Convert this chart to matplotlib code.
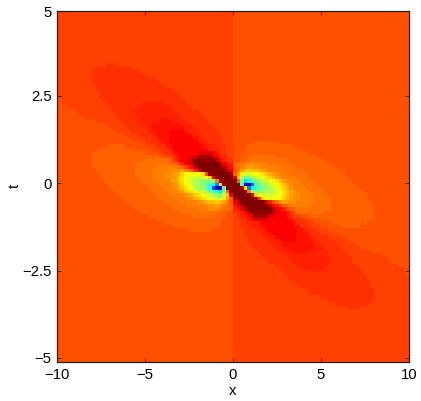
import numpy as np
import matplotlib
matplotlib.use('Agg')
import matplotlib.pyplot as plt
from matplotlib.colors import ListedColormap

plt.rcParams['font.family'] = ['Liberation Sans', 'DejaVu Sans']

# colour index (jet 1..64) of the left half, one row per t cell from the top
# each row is value, end column, value, end column ... (50 columns to x=0)
top_rows = [[52, 50]] * 15
mid_rows = [
    [52, 14, 53, 17, 52, 50],
    [52, 11, 53, 21, 52, 50],
    [52, 10, 53, 23, 52, 50],
    [52, 10, 53, 25, 52, 50],
    [52, 10, 53, 28, 52, 50],
    [52, 10, 53, 29, 52, 50],
    [52, 11, 53, 31, 52, 50],
    [52, 11, 53, 33, 52, 50],
    [52, 12, 53, 34, 52, 50],
    [52, 12, 53, 35, 52, 50],
    [51, 1, 52, 13, 53, 36, 52, 50],
    [51, 1, 52, 14, 53, 24, 54, 30, 53, 37, 52, 50],
    [51, 3, 52, 15, 53, 23, 54, 32, 53, 38, 52, 50],
    [51, 5, 52, 16, 53, 22, 54, 33, 53, 40, 52, 50],
    [51, 6, 52, 16, 53, 22, 54, 34, 53, 41, 52, 50],
    [51, 8, 52, 17, 53, 23, 54, 35, 53, 42, 52, 50],
    [51, 11, 52, 18, 53, 23, 54, 29, 55, 33, 54, 37, 53, 43, 52, 50],
    [51, 14, 52, 19, 53, 24, 54, 27, 55, 35, 54, 38, 53, 44, 52, 50],
    [51, 15, 52, 20, 53, 25, 54, 27, 55, 36, 54, 39, 53, 45, 52, 50],
    [51, 17, 52, 21, 53, 26, 54, 28, 55, 32, 56, 36, 55, 37, 54, 40, 53, 46, 52, 50],
    [51, 19, 52, 23, 53, 27, 54, 28, 55, 32, 56, 38, 54, 41, 53, 46, 52, 50],
    [51, 21, 52, 25, 53, 28, 54, 29, 55, 32, 56, 39, 55, 40, 54, 42, 53, 47, 52, 50],
    [51, 23, 52, 26, 53, 29, 54, 30, 55, 32, 56, 40, 55, 41, 54, 43, 53, 47, 52, 50],
    [51, 14, 50, 19, 51, 25, 52, 28, 53, 31, 55, 33, 56, 41, 55, 42, 54, 45, 53, 48, 52, 50],
    [51, 12, 50, 22, 51, 27, 52, 29, 53, 32, 55, 33, 56, 42, 55, 43, 54, 46, 53, 48, 52, 50],
    [51, 10, 50, 25, 51, 29, 52, 30, 53, 33, 55, 34, 56, 40, 58, 44, 56, 45, 55, 46, 53, 48, 52, 50],
    [51, 10, 50, 29, 51, 31, 52, 33, 53, 34, 55, 35, 56, 38, 58, 40, 62, 44, 58, 45, 56, 46, 54, 48, 53, 49, 52, 50],
    [51, 10, 50, 24, 49, 32, 51, 33, 53, 34, 55, 35, 56, 36, 57, 38, 60, 39, 63, 45, 60, 46, 56, 47, 54, 48, 53, 50],
    [51, 10, 50, 22, 49, 32, 50, 34, 52, 35, 54, 36, 56, 37, 57, 38, 60, 39, 64, 46, 60, 47, 57, 48, 55, 49, 54, 50],
    [51, 10, 50, 22, 49, 28, 48, 34, 49, 35, 50, 36, 52, 37, 54, 38, 56, 39, 60, 40, 64, 47, 60, 48, 57, 49, 55, 50],
    [51, 11, 50, 22, 49, 27, 48, 32, 47, 35, 46, 36, 47, 37, 49, 38, 51, 39, 54, 40, 58, 41, 64, 48, 60, 49, 57, 50],
    [51, 12, 50, 22, 49, 27, 48, 31, 47, 33, 46, 34, 45, 35, 43, 36, 41, 37, 40, 38, 39, 40, 40, 41, 42, 42, 52, 43, 62, 44, 64, 49, 62, 50],
    [51, 12, 50, 23, 49, 27, 48, 31, 47, 33, 46, 34, 44, 35, 42, 36, 40, 37, 38, 38, 38, 39, 37, 41, 38, 42, 40, 43, 43, 44, 56, 45, 64, 50],
    [51, 13, 50, 24, 49, 28, 48, 32, 46, 34, 44, 35, 42, 36, 40, 37, 38, 38, 36, 39, 35, 40, 34, 41, 33, 42, 32, 44, 33, 45, 48, 46, 62, 47, 64, 50],
    [51, 14, 50, 25, 49, 29, 48, 33, 47, 34, 45, 35, 43, 36, 41, 37, 39, 38, 37, 39, 35, 40, 34, 41, 32, 42, 30, 43, 28, 44, 24, 45, 16, 46, 42, 47, 62, 48, 64, 50],
    [51, 15, 50, 26, 49, 30, 48, 33, 47, 34, 46, 35, 44, 36, 42, 37, 40, 38, 38, 39, 36, 40, 34, 41, 33, 42, 31, 43, 27, 44, 14, 45, 4, 47, 30, 48, 64, 50],
    [51, 16, 50, 27, 49, 31, 48, 34, 47, 35, 46, 36, 44, 37, 42, 38, 41, 39, 39, 40, 37, 41, 36, 42, 34, 43, 31, 44, 28, 45, 25, 46, 22, 47, 32, 48, 50, 49, 64, 50],
    [51, 17, 50, 28, 49, 32, 48, 36, 47, 37, 46, 38, 45, 39, 43, 40, 42, 41, 40, 42, 38, 43, 37, 44, 35, 45, 33, 46, 31, 47, 36, 48, 44, 49, 58, 50],
    [51, 18, 50, 29, 49, 34, 48, 37, 47, 38, 46, 39, 45, 40, 44, 41, 42, 42, 41, 43, 39, 44, 38, 45, 37, 47, 41, 48, 46, 49, 50, 50],
    [51, 19, 50, 30, 49, 35, 48, 40, 47, 41, 46, 42, 45, 43, 44, 45, 43, 46, 44, 47, 46, 48, 48, 49, 51, 50],
    [51, 21, 50, 32, 49, 37, 48, 42, 47, 44, 46, 46, 47, 47, 48, 48, 49, 49, 50, 50],
    [51, 22, 50, 33, 49, 40, 48, 43, 47, 46, 48, 47, 49, 49, 50, 50],
    [51, 24, 50, 35, 49, 46, 50, 48, 51, 50],
    [51, 26, 50, 38, 49, 45, 50, 48, 51, 50],
    [51, 28, 50, 47, 51, 50],
    [51, 30, 50, 47, 51, 50],
    [51, 33, 50, 46, 51, 50],
    [51, 37, 50, 44, 51, 50],
]
low_rows = [[51, 50]] * 37

x_ticks = [-10, -5, 0, 5, 10]
x_labels = ['\u221210', '\u22125', '0', '5', '10']
t_ticks = [-5, -2.5, 0, 2.5, 4.92]
t_labels = ['\u22125', '\u22122.5', '0', '2.5', '5']

rows = top_rows + mid_rows + low_rows
z_left = []
for r in rows:
    line = []
    for v, end in zip(r[0::2], r[1::2]):
        line += [v] * (end - len(line))
    z_left.append(line)
z_left = np.array(z_left, dtype=float)
# picture is point symmetric, right half is the left one turned round
z = np.hstack([z_left, z_left[::-1, ::-1]])

x_edges = np.linspace(-10, 10, 101)
t_edges = np.linspace(5.03, -5.03, 101) - 0.086

# matlab jet, not the matplotlib one
cols = []
for i in range(1, 65):
    if i <= 8:
        cols.append((0, 0, 0.5 + i/16.))
    elif i <= 24:
        cols.append((0, (i-8)/16., 1))
    elif i <= 40:
        cols.append(((i-24)/16., 1, 1-(i-24)/16.))
    elif i <= 56:
        cols.append((1, 1-(i-40)/16., 0))
    else:
        cols.append((1-(i-56)/16., 0, 0))

fig = plt.figure(figsize=(4.21, 4.01), dpi=100)
ax = fig.add_axes([57.3/421, 39./401, 351.4/421, 351.5/401])
ax.pcolormesh(x_edges, t_edges, z, cmap=ListedColormap(cols), vmin=0.5, vmax=64.5)
ax.set_xlim(-10, 10)
ax.set_ylim(-5.116, 4.944)
ax.set_xticks(x_ticks)
ax.set_xticklabels(x_labels)
ax.set_yticks(t_ticks)
ax.set_yticklabels(t_labels)
ax.tick_params(direction='in', top=True, right=True, length=2.6, width=0.6, labelsize=10.7, pad=4, color='#222222')
ax.set_xlabel('x', fontsize=10.7, labelpad=1.5)
ax.set_ylabel('t', fontsize=10.7, labelpad=0.5)
for s in ax.spines.values():
    s.set_linewidth(0.9)
    s.set_color('#222222')

fig.savefig('out.png', dpi=100)
